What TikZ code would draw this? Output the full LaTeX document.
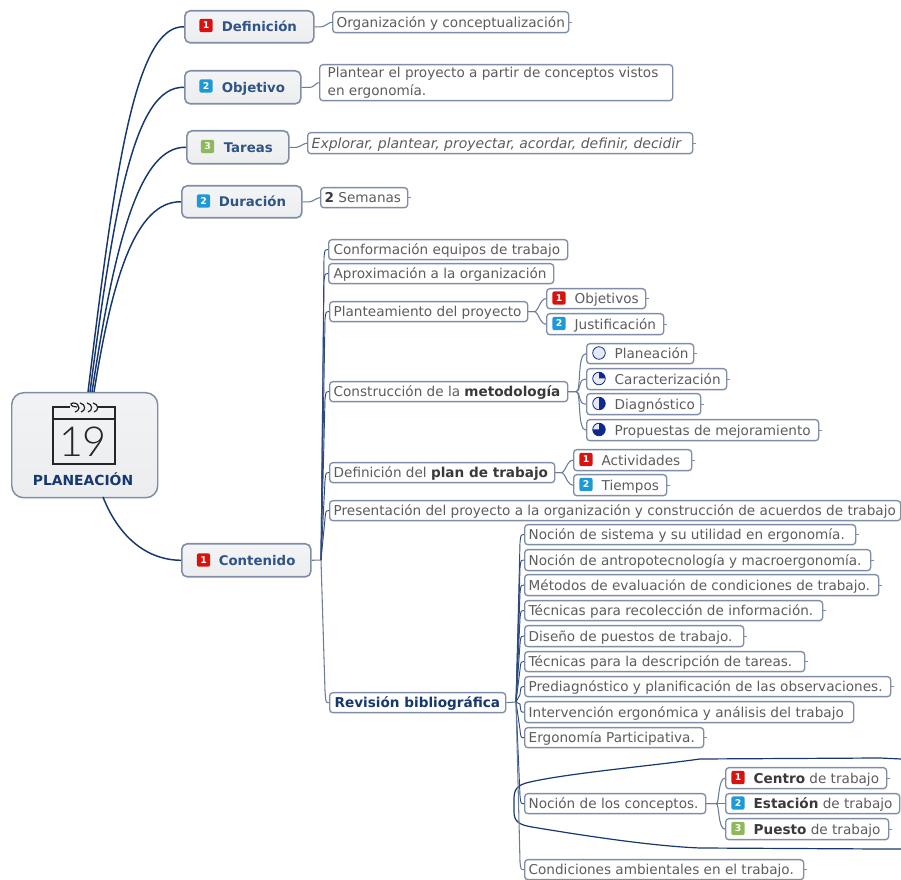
\documentclass[tikz,border=0pt]{standalone}
\usepackage{fontspec}
\setmainfont{DejaVu Sans}
\newfontfamily\digitfont[UprightFont={* Light}]{Lato}
\usetikzlibrary{calc}
\definecolor{navy}{HTML}{17376F}
\definecolor{branch}{HTML}{6A7C96}
\definecolor{trunkc}{HTML}{2E4A7C}
\definecolor{frame}{HTML}{7F8EA5}
\definecolor{mainfill}{HTML}{ECEDEF}
\definecolor{maintext}{HTML}{2F5486}
\definecolor{subtext}{HTML}{5C5C5C}
\definecolor{boldtext}{HTML}{3A3A3A}
\definecolor{iconred}{HTML}{D8130F}
\definecolor{iconblue}{HTML}{1F98D8}
\definecolor{icongreen}{HTML}{8DB95A}
\definecolor{pielight}{HTML}{E6E8F6}
\definecolor{piedark}{HTML}{0F2A8C}
\tikzset{
  x=0.75pt,y=-0.75pt,
  subbox/.style={draw=frame,line width=1pt,rounded corners=2.4pt,fill=white,text=subtext,font=\fontsize{10.2}{12}\selectfont},
  refbox/.style={subbox,text=navy,font=\fontsize{10.2}{12}\selectfont\bfseries},
  mainbox/.style={draw=frame,line width=1.2pt,rounded corners=4pt,top color=mainfill!60!white,bottom color=mainfill,text=maintext,font=\fontsize{10}{12}\selectfont\bfseries},
  rootbox/.style={draw=frame,line width=1.1pt,rounded corners=9pt,top color=mainfill!70!white,bottom color=mainfill},
  maincurve/.style={draw=navy,line width=1.1pt},
  thin branch/.style={draw=branch,line width=0.8pt},
  trunk/.style={draw=trunkc,line width=0.7pt},
  badge/.style={rounded corners=1.6pt,minimum size=10pt,inner sep=0pt,text=white,font=\fontsize{7}{7}\selectfont\bfseries},
  pienode/.style={circle,draw=piedark,line width=0.6pt,fill=pielight,minimum size=9.4pt,inner sep=0pt},
  stubline/.style={draw=frame,line width=0.6pt},
  cal/.style={draw=black!85,line width=1.4pt},
}
\newcommand\bx[8]{%
  \pgfmathsetmacro\bxw{(#4-#3)*0.75}%
  \pgfmathsetmacro\bxh{(#6-#5)*0.75}%
  \node[#2,anchor=north west,inner sep=0pt,minimum width=\bxw pt,minimum height=\bxh pt] (#1) at (#3,#5)
    {\makebox[\bxw pt][l]{\hspace*{\dimexpr #7pt*3/4\relax}\vphantom{Áj}#8}};%
}
\newcommand\stub[1]{\draw[stubline] (#1.east) -- ++(2.5,0);}
\newcommand\bdg[5]{\node[badge,fill=#2] (#1) at (#3,#4) {#5};}
\newcommand\piei[5]{%
  \node[pienode] (#1) at (#2,#3) {};
  \fill[piedark] (#1.center) -- ([shift={(#4:4.7pt)}]#1.center) arc[start angle=#4,end angle=#5,radius=4.7pt] -- cycle;
}
% fan from a parent to a child
\newcommand\fan[5]{\draw[thin branch] (#1.east) -- ++(#3,0) .. controls +(#4,0) and ($(#2.west)+(-#5,0)$) .. (#2.west);}
% child of a vertical trunk
\newcommand\kid[4]{\draw[#4] (#1) -- ($(#2.west)+(-4,#3)$) .. controls ($(#2.west)+(-3.2,0)$) .. (#2.west);}
\begin{document}
\begin{tikzpicture}
\useasboundingbox (0,0) rectangle (901,880);
% boundary round the concepts
\coordinate (bndA) at (901,759);
\coordinate (bndB) at (901,849);
\draw[navy,line width=0.9pt] (bndA) -- (880,758) -- (700,759) .. controls (650,766) and (570,773) .. (530,782)
  .. controls (516,785) and (514,790) .. (514,800) -- (514,812) .. controls (514,822) and (520,825) .. (532,827)
  .. controls (580,835) and (650,846) .. (700,848) -- (880,849) -- (bndB);

% central node
\bx{root}{rootbox}{11}{157}{392}{497}{0}{}
\draw[cal] (70,407) -- (53,407) -- (53,464) -- (115,464) -- (115,407) -- (98,407);
\draw[cal] (53,419) -- (115,419);
\draw[black!85,line width=0.9pt] (77,407) .. controls (71,407) and (69,403.5) .. (73,403) .. controls (77,403) and (79,405) .. (79,408) .. controls (79,410) and (77,411.5) .. (75,412);
\draw[black!85,line width=0.9pt] (80,403) .. controls (86,404) and (86,411) .. (81,412);
\draw[black!85,line width=0.9pt] (87,403) .. controls (93,404) and (93,411) .. (88,412);
\draw[black!85,line width=0.9pt] (93,403) .. controls (99,404) and (99,411) .. (94,412);
\node[inner sep=0pt,text=black!85,font=\digitfont\fontsize{31}{31}\selectfont] (calnum) at (83,442) {19};
\node[inner sep=0pt,text=navy,font=\fontsize{10.4}{12}\selectfont\bfseries] (roottitle) at (83,479) {PLANEACIÓN};

% main topics
\bx{def}{mainbox}{184}{313}{10}{42}{37}{Definición}
\bx{obj}{mainbox}{184}{300}{70}{103}{37}{Objetivo}
\bx{tar}{mainbox}{186}{288}{130}{163}{37}{Tareas}
\bx{dur}{mainbox}{181}{301}{185}{217}{37}{Duración}
\bx{con}{mainbox}{181}{310}{543}{576}{37}{Contenido}
\bdg{bdef}{iconred}{206}{25.5}{1}
\bdg{bobj}{iconblue}{206}{86}{2}
\bdg{btar}{icongreen}{207.5}{146.5}{3}
\bdg{bdur}{iconblue}{203.5}{201}{2}
\bdg{bcon}{iconred}{203.5}{560}{1}

\coordinate (r1) at (88,392);
\coordinate (r2) at (90,392);
\coordinate (r3) at (92,392);
\coordinate (r4) at (94,392);
\coordinate (r5) at (103,497);
\draw[maincurve] (r1) .. controls (115,170) and (135,25) .. (def.west);
\draw[maincurve] (r2) .. controls (115,200) and (135,86) .. (obj.west);
\draw[maincurve] (r3) .. controls (115,240) and (140,146) .. (tar.west);
\draw[maincurve] (r4) .. controls (112,280) and (135,201) .. (dur.west);
\draw[maincurve] (r5) .. controls (118,535) and (145,560) .. (con.west);

% leaves of the upper topics
\bx{org}{subbox}{332}{568}{11}{32}{4}{Organización y conceptualización}
\bx{pla}{subbox}{319}{672}{64}{100}{8}{\shortstack[l]{Plantear el proyecto a partir de conceptos vistos\\en ergonomía.}}
\bx{exp}{subbox}{307}{692}{132}{153}{4}{\fontsize{10.5}{12}\selectfont\itshape Explorar, plantear, proyectar, acordar, definir, decidir}
\bx{sem}{subbox}{320}{407}{187}{207}{4}{\textcolor{boldtext}{\bfseries 2} Semanas}
\fan{def}{org}{7}{3}{3}
\fan{obj}{pla}{9}{3}{3}
\fan{tar}{exp}{7}{3}{3}
\fan{dur}{sem}{7}{3}{3}

% Contenido children
\coordinate (jc) at (321,560);
\bx{c1}{subbox}{328}{567}{239}{259}{5}{Conformación equipos de trabajo}
\bx{c2}{subbox}{328}{553}{263}{283}{5}{Aproximación a la organización}
\bx{c3}{subbox}{329}{527}{301}{321}{4}{Planteamiento del proyecto}
\bx{c4}{subbox}{329}{567}{381}{401}{4}{Construcción de la \textcolor{boldtext}{\bfseries metodología}}
\bx{c5}{subbox}{329}{554}{462}{482}{4}{Definición del \textcolor{boldtext}{\bfseries plan de trabajo}}
\bx{c6}{subbox}{329}{900}{500}{520}{4}{Presentación del proyecto a la organización y construcción de acuerdos de trabajo}
\bx{c7}{refbox}{329}{505}{692}{712}{5}{Revisión bibliográfica}
\draw[thin branch] (con.east) -- (jc);
\kid{jc}{c1}{8}{trunk}
\kid{jc}{c2}{8}{trunk}
\kid{jc}{c3}{8}{trunk}
\kid{jc}{c4}{8}{trunk}
\kid{jc}{c5}{8}{trunk}
\kid{jc}{c6}{8}{trunk}
\kid{jc}{c7}{-12}{thin branch}

% Planteamiento
\bx{c31}{subbox}{546}{645}{288}{308}{28}{Objetivos}
\bx{c32}{subbox}{546}{663}{313}{334}{28}{Justificación}
\bdg{bc31}{iconred}{559}{298}{1}
\bdg{bc32}{iconblue}{559}{323.5}{2}
\fan{c3}{c31}{6}{4}{6}
\fan{c3}{c32}{6}{4}{6}

% Metodología
\bx{c41}{subbox}{586}{693}{343}{363}{28}{Planeación}
\bx{c42}{subbox}{586}{726}{368}{389}{28}{Caracterización}
\bx{c43}{subbox}{586}{700}{393}{414}{28}{Diagnóstico}
\bx{c44}{subbox}{586}{818}{419}{440}{28}{Propuestas de mejoramiento}
\node[pienode] (pie1) at (599,353) {};
\piei{pie2}{599}{378.5}{90}{0}
\piei{pie3}{599}{403.5}{90}{-90}
\piei{pie4}{599}{429.5}{90}{-180}
\fan{c4}{c41}{8}{5}{9}
\fan{c4}{c42}{8}{5}{9}
\fan{c4}{c43}{8}{5}{9}
\fan{c4}{c44}{8}{5}{9}

% Plan de trabajo
\bx{c51}{subbox}{573}{691}{449}{470}{28}{Actividades}
\bx{c52}{subbox}{573}{666}{474}{495}{28}{Tiempos}
\bdg{bc51}{iconred}{586}{459.5}{1}
\bdg{bc52}{iconblue}{586}{484.5}{2}
\fan{c5}{c51}{6}{4}{6}
\fan{c5}{c52}{6}{4}{6}

% Revisión bibliográfica
\coordinate (jr) at (516,702);
\bx{r1n}{subbox}{524}{855}{524}{544}{4}{Noción de sistema y su utilidad en ergonomía.}
\bx{r2n}{subbox}{524}{870}{549}{570}{4}{Noción de antropotecnología y macroergonomía.}
\bx{r3n}{subbox}{524}{878}{574}{595}{4}{Métodos de evaluación de condiciones de trabajo.}
\bx{r4n}{subbox}{524}{822}{600}{620}{4}{Técnicas para recolección de información.}
\bx{r5n}{subbox}{524}{743}{625}{646}{4}{Diseño de puestos de trabajo.}
\bx{r6n}{subbox}{524}{804}{651}{671}{4}{Técnicas para la descripción de tareas.}
\bx{r7n}{subbox}{524}{890}{676}{696}{4}{Prediagnóstico y planificación de las observaciones.}
\bx{r8n}{subbox}{524}{853}{701}{722}{4}{Intervención ergonómica y análisis del trabajo}
\bx{r9n}{subbox}{524}{703}{727}{747}{4}{Ergonomía Participativa.}
\bx{r10n}{subbox}{524}{705}{793}{813}{4}{Noción de los conceptos.}
\bx{r11n}{subbox}{524}{803}{859}{879}{4}{Condiciones ambientales en el trabajo.}
\draw[thin branch] (c7.east) -- (jr);
\kid{jr}{r1n}{8}{trunk}
\kid{jr}{r2n}{8}{trunk}
\kid{jr}{r3n}{8}{trunk}
\kid{jr}{r4n}{8}{trunk}
\kid{jr}{r5n}{8}{trunk}
\kid{jr}{r6n}{8}{trunk}
\kid{jr}{r7n}{8}{trunk}
\kid{jr}{r8n}{-8}{trunk}
\kid{jr}{r9n}{-8}{trunk}
\kid{jr}{r10n}{-8}{trunk}
\kid{jr}{r11n}{-8}{thin branch}

% conceptos
\bx{k1}{subbox}{725}{886}{767}{788}{28}{\textcolor{boldtext}{\bfseries Centro} de trabajo}
\bx{k2}{subbox}{725}{899}{793}{813}{28}{\textcolor{boldtext}{\bfseries Estación} de trabajo}
\bx{k3}{subbox}{725}{888}{818}{839}{28}{\textcolor{boldtext}{\bfseries Puesto} de trabajo}
\bdg{bk1}{iconred}{738}{777.5}{1}
\bdg{bk2}{iconblue}{738}{803}{2}
\bdg{bk3}{icongreen}{738}{828.5}{3}
\fan{r10n}{k1}{10}{3}{7}
\fan{r10n}{k2}{10}{3}{3}
\fan{r10n}{k3}{10}{3}{7}

% small ticks on the right of leaves
\foreach \n in {org,exp,sem,c31,c32,c41,c42,c43,c44,c51,c52,r1n,r2n,r3n,r4n,r5n,r6n,r7n,r9n,r11n,k1,k3}{\stub{\n}}
\end{tikzpicture}
\end{document}
